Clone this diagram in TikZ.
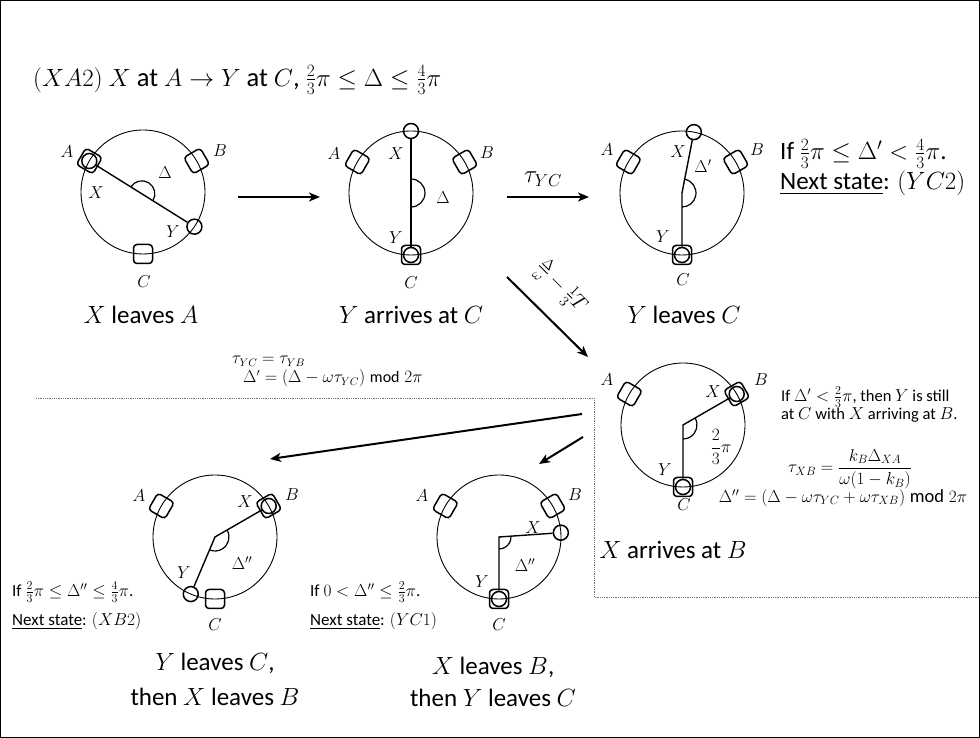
\documentclass[tikz,border=0pt]{standalone}
\usepackage{amsmath}
\usepackage{fontspec}
\setmainfont{Carlito}
\usetikzlibrary{arrows.meta,calc}
\newcommand{\myfs}[1]{\fontsize{#1}{#1}\selectfont}
\begin{document}
\begin{tikzpicture}[x=1pt,y=1pt,
  ring/.style={line width=0.9pt},
  box/.style={draw,rounded corners=3.5pt,minimum size=19pt,line width=1.5pt,inner sep=0pt},
  tok/.style={draw,circle,minimum size=15pt,line width=1.5pt,inner sep=0pt},
  conn/.style={line width=1.4pt},
  ang/.style={line width=1.2pt},
  lab/.style={inner sep=0pt,font=\myfs{18}},
  capt/.style={inner sep=0pt,font=\myfs{25}},
  smalltext/.style={inner sep=0pt,font=\myfs{17},anchor=west},
  sidetext/.style={inner sep=0pt,font=\myfs{16.5},anchor=west},
  formula/.style={inner sep=0pt,font=\myfs{16}},
  bigformula/.style={inner sep=0pt,font=\myfs{18.5}},
  bigarrow/.style={line width=2pt,-{Stealth[length=11pt,width=9pt,inset=3pt]}},
  sepline/.style={densely dotted,line width=0.8pt,black!55}]
\useasboundingbox (0,0) rectangle (980,738);
\draw[line width=1pt] (0.5,0.5) rectangle (979.5,737.5);

% title
\node[inner sep=0pt,anchor=west,font=\myfs{26.5}] (title) at (33,658)
  {$(XA2)$ $X$ at $A\rightarrow Y$ at $C$, $\frac{2}{3}\pi\le\Delta\le\frac{4}{3}\pi$};

% ---- circle 1: X leaves A
\coordinate (O1) at (143,546);
\draw[ring] (O1) circle[radius=62];
\node[box,rotate=60] (A1) at ($(O1)+(150:62)$) {};
\node[box,rotate=30] (B1) at ($(O1)+(30:62)$) {};
\node[box] (C1) at ($(O1)+(270:62)$) {};
\node[tok] (X1) at ($(O1)+(150:62)$) {};
\node[tok] (Y1) at ($(O1)+(-34:62)$) {};
\draw[conn] (X1) -- (Y1);
\coordinate (M1) at ($(X1)!0.5!(Y1)$);
\draw[ang] ($(M1)+(148:13)$) arc[start angle=148,end angle=-32,radius=13];
\node[lab] (lA1) at (67,586) {$A$};
\node[lab] (lB1) at (220,587) {$B$};
\node[lab] (lC1) at (144,456) {$C$};
\node[lab] (lX1) at (96,545) {$X$};
\node[lab] (lY1) at (173,506) {$Y$};
\node[lab] (lD1) at (165,565) {$\Delta$};
\node[capt] (cap1) at (141,423) {$X$ leaves $A$};

% ---- circle 2: Y arrives at C
\coordinate (O2) at (411,545);
\draw[ring] (O2) circle[radius=62];
\node[box,rotate=60] (A2) at ($(O2)+(150:62)$) {};
\node[box,rotate=30] (B2) at ($(O2)+(30:62)$) {};
\node[box] (C2) at ($(O2)+(270:62)$) {};
\node[tok] (X2) at ($(O2)+(90:62)$) {};
\node[tok] (Y2) at ($(O2)+(270:62)$) {};
\draw[conn] (X2) -- (Y2);
\draw[ang] ($(O2)+(90:14)$) arc[start angle=90,end angle=-90,radius=14];
\node[lab] (lA2) at (334,584) {$A$};
\node[lab] (lB2) at (487,585) {$B$};
\node[lab] (lX2) at (396,584) {$X$};
\node[lab] (lY2) at (396,500) {$Y$};
\node[lab] (lC2) at (411,455) {$C$};
\node[lab] (lD2) at (443,540) {$\Delta$};
\node[capt] (cap2) at (411,423) {$Y$ arrives at $C$};

% ---- circle 3: Y leaves C
\coordinate (O3) at (682,545);
\draw[ring] (O3) circle[radius=62];
\node[box,rotate=60] (A3) at ($(O3)+(150:62)$) {};
\node[box,rotate=30] (B3) at ($(O3)+(30:62)$) {};
\node[box] (C3) at ($(O3)+(270:62)$) {};
\node[tok] (X3) at ($(O3)+(79:62)$) {};
\node[tok] (Y3) at ($(O3)+(270:62)$) {};
\draw[conn] (Y3) -- (O3) -- (X3);
\draw[ang] ($(O3)+(79:14)$) arc[start angle=79,end angle=-90,radius=14];
\node[lab] (lA3) at (607,588) {$A$};
\node[lab] (lB3) at (757,588) {$B$};
\node[lab] (lX3) at (678,586) {$X$};
\node[lab] (lD3) at (703,572) {$\Delta'$};
\node[lab] (lY3) at (663,501) {$Y$};
\node[lab] (lC3) at (683,458) {$C$};
\node[capt] (cap3) at (684,423) {$Y$ leaves $C$};

\node[inner sep=0pt,anchor=base west,font=\myfs{25}] (if3) at (780,578)
  {If $\frac{2}{3}\pi\le\Delta'<\frac{4}{3}\pi$.};
\node[inner sep=0pt,anchor=base west,font=\myfs{25}] (ns3) at (780,548)
  {\underline{Next state}: $(YC2)$};

% ---- arrows top row
\coordinate (a1s) at (238,541); \coordinate (a1e) at (320,541);
\draw[bigarrow] (a1s) -- (a1e);
\coordinate (a2s) at (507,541); \coordinate (a2e) at (589,541);
\draw[bigarrow] (a2s) -- (a2e);
\node[inner sep=0pt,font=\myfs{24}] (tau) at (543,559) {$\tau_{YC}$};
\coordinate (a3s) at (507,461); \coordinate (a3e) at (588,381);
\draw[bigarrow] (a3s) -- (a3e);
\node[inner sep=0pt,font=\myfs{20},rotate=-45] (dlab) at (561,451)
  {$\frac{\Delta}{\omega}-\frac{1}{3}T$};

% middle formulas
\node[formula,anchor=base west] (f1) at (232,374) {$\tau_{YC}=\tau_{YB}$};
\node[formula,anchor=base west] (f2) at (243,355) {$\Delta'=(\Delta-\omega\tau_{YC})\bmod 2\pi$};

% dotted separator
\coordinate (s1) at (36,340); \coordinate (s2) at (594,340);
\coordinate (s3) at (594,141); \coordinate (s4) at (980,141);
\draw[sepline] (s1) -- (s2) -- (s3) -- (s4);

% ---- circle 4: X arrives at B
\coordinate (O4) at (683,313);
\draw[ring] (O4) circle[radius=62];
\node[box,rotate=60] (A4) at ($(O4)+(150:62)$) {};
\node[box,rotate=30] (B4) at ($(O4)+(30:62)$) {};
\node[box] (C4) at ($(O4)+(270:62)$) {};
\node[tok] (X4) at ($(O4)+(30:62)$) {};
\node[tok] (Y4) at ($(O4)+(270:62)$) {};
\draw[conn] (Y4) -- (O4) -- (X4);
\draw[ang] ($(O4)+(30:14)$) arc[start angle=30,end angle=-90,radius=14];
\node[lab] (lA4) at (607,358) {$A$};
\node[lab] (lX4) at (713,346) {$X$};
\node[lab] (lB4) at (761,358) {$B$};
\node[lab] (lY4) at (665,268) {$Y$};
\node[lab] (lC4) at (684,233) {$C$};
\node[lab] (lD4) at (721,291) {$\dfrac{2}{3}\pi$};
\node[capt] (cap4) at (673,188) {$X$ arrives at $B$};

\node[sidetext] (t4a) at (781,341) {If $\Delta'<\frac{2}{3}\pi$, then $Y$ is still};
\node[sidetext] (t4b) at (781,323) {at $C$ with $X$ arriving at $B$.};
\node[bigformula] (f3) at (850,269) {$\tau_{XB}=\dfrac{k_B\Delta_{XA}}{\omega(1-k_B)}$};
\node[bigformula] (f4) at (843,240) {$\Delta''=(\Delta-\omega\tau_{YC}+\omega\tau_{XB})\bmod 2\pi$};

% ---- arrows to bottom row
\coordinate (a4s) at (582,324); \coordinate (a4e) at (270,279);
\draw[bigarrow] (a4s) -- (a4e);
\coordinate (a5s) at (583,301); \coordinate (a5e) at (539,274);
\draw[bigarrow] (a5s) -- (a5e);

% ---- circle 5: Y leaves C, then X leaves B
\coordinate (O5) at (215,201);
\draw[ring] (O5) circle[radius=62];
\node[box,rotate=60] (A5) at ($(O5)+(150:62)$) {};
\node[box,rotate=30] (B5) at ($(O5)+(30:62)$) {};
\node[box] (C5) at ($(O5)+(270:62)$) {};
\node[tok] (X5) at ($(O5)+(30:62)$) {};
\node[tok] (Y5) at ($(O5)+(247:62)$) {};
\draw[conn] (Y5) -- (O5) -- (X5);
\draw[ang] ($(O5)+(30:14)$) arc[start angle=30,end angle=-113,radius=14];
\node[lab] (lA5) at (139,242) {$A$};
\node[lab] (lX5) at (245,236) {$X$};
\node[lab] (lB5) at (292,243) {$B$};
\node[lab] (lY5) at (184,165) {$Y$};
\node[lab] (lC5) at (215,113) {$C$};
\node[lab] (lD5) at (242,175) {$\Delta''$};
\node[smalltext] (t5a) at (12,146) {If $\frac{2}{3}\pi\le\Delta''\le\frac{4}{3}\pi$.};
\node[smalltext] (t5b) at (12,117) {\underline{Next state}: $(XB2)$};
\node[capt] (cap5a) at (215,75) {$Y$ leaves $C$,};
\node[capt] (cap5b) at (215,41) {then $X$ leaves $B$};

% ---- circle 6: X leaves B, then Y leaves C
\coordinate (O6) at (499,201);
\draw[ring] (O6) circle[radius=62];
\node[box,rotate=60] (A6) at ($(O6)+(150:62)$) {};
\node[box,rotate=30] (B6) at ($(O6)+(30:62)$) {};
\node[box] (C6) at ($(O6)+(270:62)$) {};
\node[tok] (X6) at ($(O6)+(4:62)$) {};
\node[tok] (Y6) at ($(O6)+(270:62)$) {};
\draw[conn] (Y6) -- (O6) -- (X6);
\draw[ang] ($(O6)+(4:12)$) arc[start angle=4,end angle=-90,radius=12];
\node[lab] (lA6) at (422,242) {$A$};
\node[lab] (lB6) at (575,243) {$B$};
\node[lab] (lX6) at (533,210) {$X$};
\node[lab] (lY6) at (482,156) {$Y$};
\node[lab] (lC6) at (499,113) {$C$};
\node[lab] (lD6) at (525,173) {$\Delta''$};
\node[smalltext] (t6a) at (310,146) {If $0<\Delta''\le\frac{2}{3}\pi$.};
\node[smalltext] (t6b) at (310,117) {\underline{Next state}: $(YC1)$};
\node[capt] (cap6a) at (493,71) {$X$ leaves $B$,};
\node[capt] (cap6b) at (493,40) {then $Y$ leaves $C$};
\end{tikzpicture}
\end{document}
